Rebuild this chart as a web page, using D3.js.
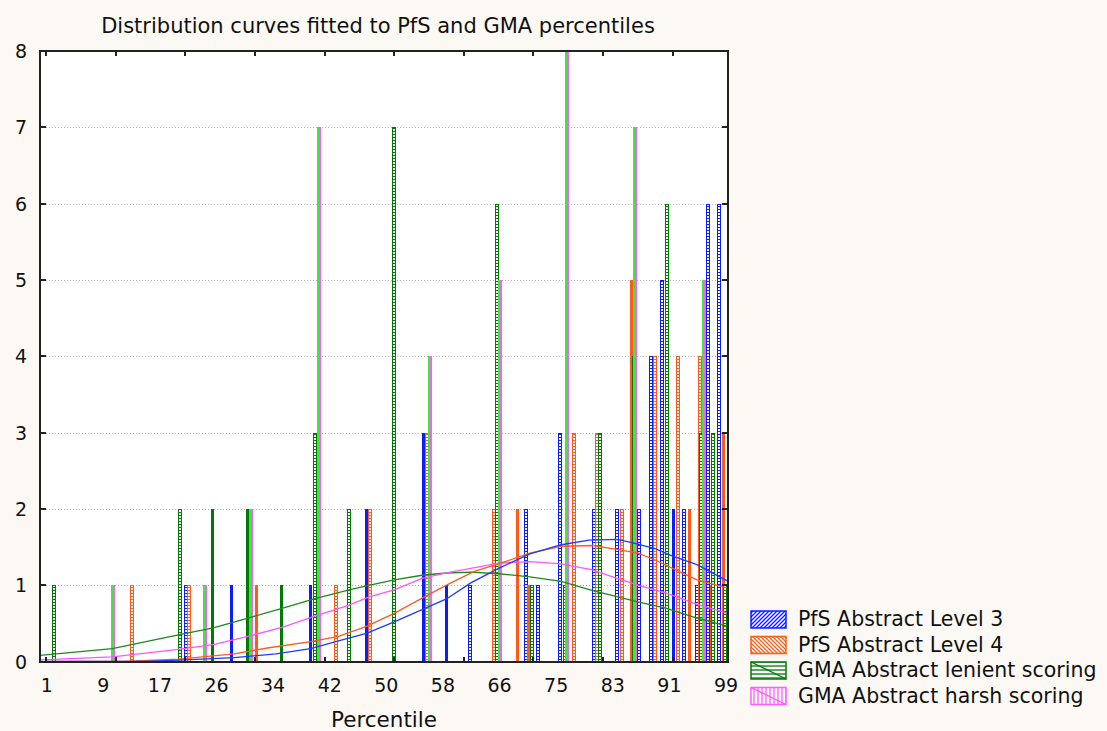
<!DOCTYPE html>
<html>
<head>
<meta charset="utf-8">
<script src="https://cdn.jsdelivr.net/npm/d3@7"></script>
<style>
  html, body { margin: 0; padding: 0; background: #fcf9f4; }
  svg { display: block; }
  text { font-family: "DejaVu Sans", sans-serif; fill: #111; }
</style>
</head>
<body>
<div id="chart"></div>
<script>
// bars: [percentile, count]
var l3Bars = [[21.1,1],[27.6,1],[39.0,1],[47.0,2],[55.2,3],[58.5,1],[61.9,1],[69.9,2],[71.7,1],[74.8,3],
  [79.7,2],[83.0,2],[86.2,2],[87.9,4],[89.5,5],[91.1,2],[92.6,2],[94.5,1],[96.1,6],[97.7,6]];
var l4Bars = [[13.3,1],[21.5,1],[31.2,1],[42.6,1],[47.5,2],[55.7,3],[65.3,2],[68.7,2],[70.3,1],[76.8,3],
  [80.1,3],[83.7,2],[85.1,5],[88.5,4],[90.1,3],[91.8,4],[93.4,2],[94.9,4],[96.6,1],[98.3,3]];
var lenientBars = [[2.1,1],[20.2,2],[24.9,2],[29.9,2],[34.8,1],[39.6,3],[44.5,2],[51.0,7],[65.8,6],[70.8,1],
  [75.5,1],[80.6,3],[85.4,4],[90.2,6],[95.1,3],[96.8,3],[98.5,1]];
var harshBars = [[10.5,1],[23.7,1],[30.3,2],[40.1,7],[56.1,4],[66.1,5],[75.8,8],[85.5,7],[95.5,5]];

// fitted curves: [percentile, expected count]
var l3Curve = [[1,0],[15,0],[21,0.02],[28,0.05],[34,0.1],[39,0.17],[43,0.27],[47,0.37],[51,0.52],[55,0.68],
  [58.5,0.82],[62,1.03],[66,1.22],[70.5,1.41],[75,1.53],[79,1.59],[83,1.6],[85,1.56],[88.5,1.48],[91,1.38],[94.5,1.27],[99,1.05]];
var l4Curve = [[1,0],[12,0],[20,0.03],[28,0.1],[33,0.18],[39,0.26],[43,0.33],[47,0.46],[51,0.63],[55,0.83],
  [58.5,1.0],[62.5,1.18],[66,1.28],[70.5,1.42],[75,1.51],[79.5,1.52],[83,1.47],[86,1.42],[88.5,1.33],[91,1.22],[94.5,1.07],[99,0.96]];
var lenientCurve = [[0,0.08],[10.5,0.17],[20,0.35],[25,0.44],[30,0.57],[35,0.7],[39.5,0.82],[44.5,0.94],[47.5,1.0],[51,1.07],
  [55,1.13],[58.5,1.16],[62,1.17],[66,1.15],[70.5,1.11],[75,1.05],[79.5,0.93],[83,0.85],[86,0.78],[90,0.7],[94.5,0.57],[99,0.46]];
var harshCurve = [[0,0.02],[10.5,0.06],[20,0.16],[25,0.22],[30,0.33],[35,0.45],[39.5,0.59],[44.5,0.74],[47.5,0.85],[51,0.94],
  [55,1.09],[58.5,1.16],[62,1.22],[66,1.29],[70.5,1.31],[75,1.28],[79.5,1.2],[83,1.09],[86,1.0],[90,0.9],[94.5,0.75],[99,0.63]];

var xLabels = ["1","9","17","26","34","42","50","58","66","75","83","91","99"];
var xTicks = [1,11,21,31,41,51,61,71,81,91];
var yTicks = [0,1,2,3,4,5,6,7,8];
var seriesNames = ["PfS Abstract Level 3","PfS Abstract Level 4","GMA Abstract lenient scoring","GMA Abstract harsh scoring"];

var W = 1107, H = 731;
var pLeft = 40, pRight = 728, pTop = 51, pBottom = 661.5;

var svg = d3.select("#chart").append("svg").attr("width", W).attr("height", H);

var x = d3.scaleLinear().domain([1, 99]).range([46.2, 728.3]);
var y = d3.scaleLinear().domain([0, 8]).range([pBottom, pTop]);

var blue = "#0b1cff", orange = "#ff5a16", green = "#007a00", lime = "#3cea3c", pink = "#ff5cff";

// patterns
var defs = svg.append("defs");
function ladder(id, col) {
  var p = defs.append("pattern").attr("id", id).attr("patternUnits", "userSpaceOnUse")
    .attr("width", 4).attr("height", 3);
  p.append("rect").attr("width", 4).attr("height", 3).attr("fill", "#fff");
  p.append("rect").attr("y", 2).attr("width", 4).attr("height", 1).attr("fill", col);
}
ladder("ladBlue", blue); ladder("ladOrange", orange); ladder("ladGreen", green);

function hatch(id, col, kind) {
  var p = defs.append("pattern").attr("id", id).attr("patternUnits", "userSpaceOnUse")
    .attr("width", 4).attr("height", 4);
  p.append("rect").attr("width", 4).attr("height", 4).attr("fill", "#fff");
  var l = p.append("path").attr("stroke", col).attr("stroke-width", 1.3);
  if (kind == "/") l.attr("d", "M-1,1 L1,-1 M0,4 L4,0 M3,5 L5,3");
  if (kind == "\\") l.attr("d", "M-1,3 L1,5 M0,0 L4,4 M3,-1 L5,1");
  if (kind == "-") l.attr("d", "M0,2 L4,2");
  if (kind == "|") l.attr("d", "M2,0 L2,4");
}
hatch("hBlue", blue, "/"); hatch("hOrange", orange, "\\");
hatch("hGreen", green, "-"); hatch("hPink", pink, "|");

// plot background
svg.append("rect").attr("x", pLeft).attr("y", pTop).attr("width", pRight - pLeft).attr("height", pBottom - pTop)
  .attr("fill", "#fff");

defs.append("clipPath").attr("id", "plotClip").append("rect")
  .attr("x", pLeft).attr("y", pTop).attr("width", pRight - pLeft).attr("height", pBottom - pTop);

// gridlines
svg.append("g").selectAll("line").data(yTicks.filter(d => d > 0 && d < 8)).join("line")
  .attr("x1", pLeft).attr("x2", pRight)
  .attr("y1", d => Math.round(y(d)) + 0.5).attr("y2", d => Math.round(y(d)) + 0.5)
  .attr("stroke", "#bfaebf").attr("stroke-dasharray", "1,2");

var plot = svg.append("g").attr("clip-path", "url(#plotClip)").attr("shape-rendering", "crispEdges");

function drawBars(data, col, lad) {
  var g = plot.append("g");
  data.forEach(function (d) {
    var x0 = Math.round(x(d[0]) - 1.8), x1 = Math.round(x(d[0]) + 1.8), w = x1 - x0;
    var t = Math.round(y(d[1])), h = Math.round(y(0)) - t;
    g.append("rect").attr("x", x0).attr("y", t).attr("width", w).attr("height", h).attr("fill", col);
    if (w >= 4) {
      g.append("rect").attr("x", x0 + 1).attr("y", t + 1).attr("width", w - 2).attr("height", h - 1)
        .attr("fill", "url(#" + lad + ")");
    }
  });
}
drawBars(l3Bars, blue, "ladBlue");
drawBars(l4Bars, orange, "ladOrange");
drawBars(lenientBars, green, "ladGreen");

// harsh scoring bars
var hg = plot.append("g");
harshBars.forEach(function (d) {
  var x0 = Math.round(x(d[0]) - 1.5), t = Math.round(y(d[1])), h = Math.round(y(0)) - t;
  hg.append("rect").attr("x", x0).attr("y", t).attr("width", 2).attr("height", h).attr("fill", lime);
  hg.append("rect").attr("x", x0 + 2).attr("y", t).attr("width", 1.5).attr("height", h).attr("fill", pink);
});

// fitted curves
var line = d3.line().x(d => x(d[0])).y(d => y(d[1]));
var curves = svg.append("g").attr("clip-path", "url(#plotClip)");
[[lenientCurve, "#1b8a1b"], [harshCurve, "#ff55ff"], [l4Curve, "#ff5a20"], [l3Curve, "#1a3cff"]].forEach(function (c) {
  curves.append("path").datum(c[0]).attr("d", line).attr("fill", "none")
    .attr("stroke", c[1]).attr("stroke-width", 1.3);
});

// frame and ticks
var ax = svg.append("g").attr("stroke", "#222").attr("shape-rendering", "crispEdges");
ax.append("rect").attr("x", pLeft).attr("y", pTop).attr("width", pRight - pLeft).attr("height", pBottom - pTop)
  .attr("fill", "none").attr("stroke-width", 2);
xTicks.forEach(function (t) {
  ax.append("line").attr("x1", x(t)).attr("x2", x(t)).attr("y1", pTop).attr("y2", pTop + 5).attr("stroke-width", 2);
  ax.append("line").attr("x1", x(t)).attr("x2", x(t)).attr("y1", pBottom).attr("y2", pBottom - 5).attr("stroke-width", 2);
});
yTicks.forEach(function (t) {
  ax.append("line").attr("x1", pLeft).attr("x2", pLeft + 6).attr("y1", y(t)).attr("y2", y(t)).attr("stroke-width", 2);
  ax.append("line").attr("x1", pRight).attr("x2", pRight - 6).attr("y1", y(t)).attr("y2", y(t)).attr("stroke-width", 2);
});

// y labels
svg.append("g").selectAll("text").data(yTicks).join("text")
  .attr("x", 21).attr("y", d => y(d) + 7).attr("text-anchor", "middle")
  .style("font-size", "19px").text(d => d);

// x labels
var xl = d3.scalePoint().domain(xLabels).range([46.7, 726]);
svg.append("g").selectAll("text").data(xLabels).join("text")
  .attr("x", d => xl(d)).attr("y", 692).attr("text-anchor", "middle")
  .style("font-size", "19px").text(d => d);

svg.append("text").attr("x", 384).attr("y", 727).attr("text-anchor", "middle")
  .style("font-size", "21.5px").text("Percentile");

svg.append("text").attr("x", 378).attr("y", 33).attr("text-anchor", "middle")
  .style("font-size", "21px").text("Distribution curves fitted to PfS and GMA percentiles");

// legend
var swatchFill = ["hBlue", "hOrange", "hGreen", "hPink"];
var swatchCol = [blue, orange, green, pink];
var lg = svg.append("g");
seriesNames.forEach(function (name, i) {
  var yy = 611 + i * 25.5;
  lg.append("rect").attr("x", 751).attr("y", yy).attr("width", 35).attr("height", 17)
    .attr("fill", "url(#" + swatchFill[i] + ")").attr("stroke", swatchCol[i]).attr("stroke-width", 1.5);
  if (i >= 2) {
    lg.append("line").attr("x1", 751).attr("y1", yy).attr("x2", 786).attr("y2", yy + 17)
      .attr("stroke", swatchCol[i]).attr("stroke-width", 1.3);
  }
  lg.append("text").attr("x", 798).attr("y", yy + 15).style("font-size", "20.5px").text(name);
});
</script>
</body>
</html>
